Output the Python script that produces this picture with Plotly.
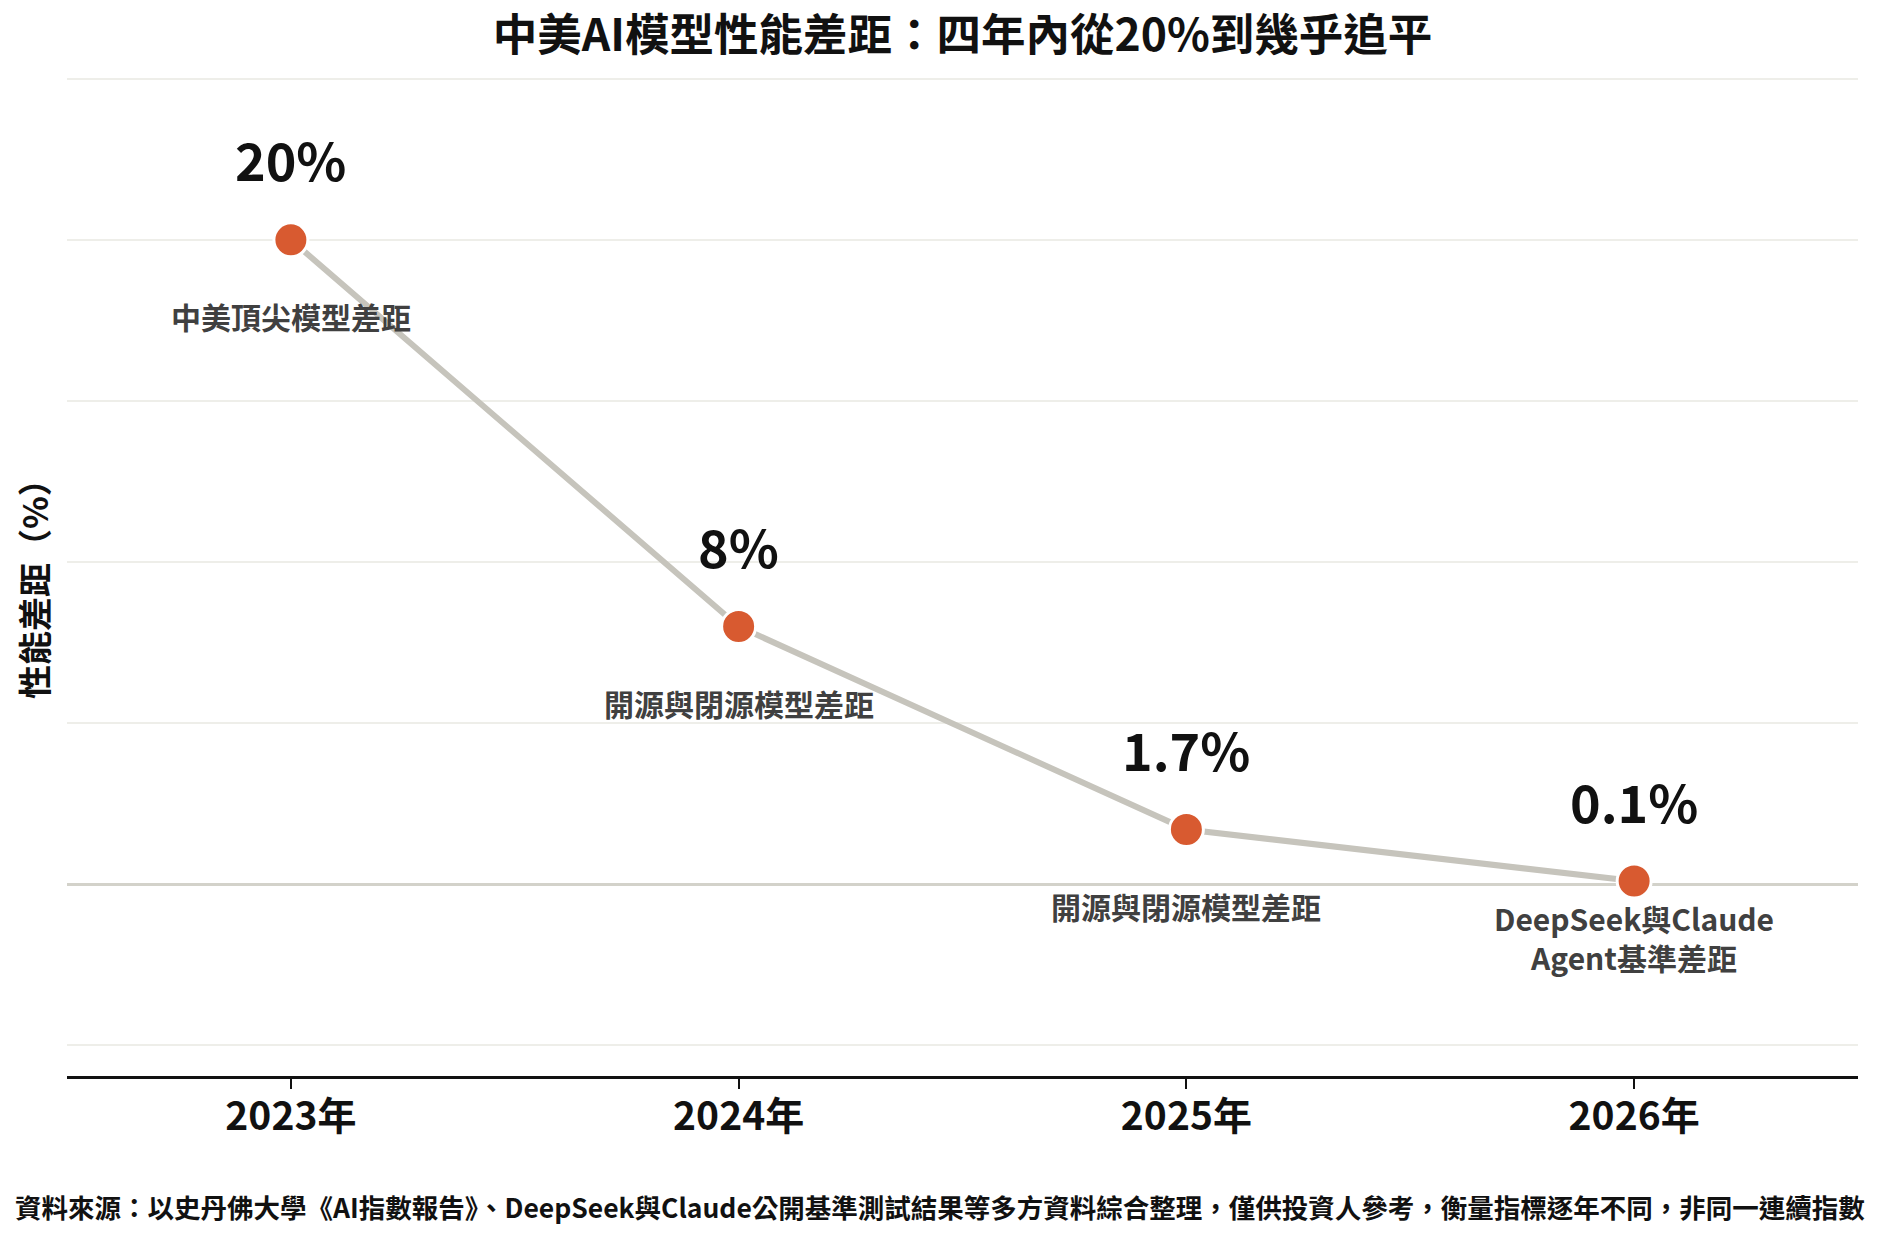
import plotly.graph_objects as go

# data
years = ["2023年", "2024年", "2025年", "2026年"]
gap_pct = [20, 8, 1.7, 0.1]
value_labels = ["20%", "8%", "1.7%", "0.1%"]
desc_labels = [
    "中美頂尖模型差距",
    "開源與閉源模型差距",
    "開源與閉源模型差距",
    "DeepSeek與Claude<br>Agent基準差距",
]

TITLE = "中美AI模型性能差距：四年內從20%到幾乎追平"
Y_TITLE = "性能差距（%）"
SOURCE = ("資料來源：以史丹佛大學《AI指數報告》、DeepSeek與Claude公開基準測試結果等多方資料綜合整理，"
          "僅供投資人參考，衡量指標逐年不同，非同一連續指數")

FONT = "Noto Sans CJK TC"
# page body has an 8px margin, so the figure is a bit smaller than the window
W, H = 1866, 1230
ML, MR, MT, MB = 59, 16, 64, 162
plot_w = W - ML - MR
plot_h = H - MT - MB


def px_x(x):
    return (x - ML) / plot_w


def px_y(y):
    return 1 - (y - MT) / plot_h


fig = go.Figure()
fig.add_trace(go.Scatter(
    x=years, y=gap_pct, mode="lines+markers",
    line=dict(color="#c6c4bc", width=6),
    marker=dict(size=34, color="#d85a30", line=dict(color="white", width=3)),
    hoverinfo="skip", showlegend=False,
))

# big value labels above, descriptions below each point
for yr, v, lab, desc in zip(years, gap_pct, value_labels, desc_labels):
    fig.add_annotation(x=yr, y=v, text=lab, showarrow=False, yanchor="middle",
                       yshift=81, font=dict(family=FONT, size=52, color="#111111", weight=700))
    two_line = "<br>" in desc
    fig.add_annotation(x=yr, y=v, text=desc, showarrow=False, yanchor="middle",
                       yshift=-56 if two_line else -76,
                       font=dict(family=FONT, size=30, color="#404040", weight=700))

fig.add_annotation(xref="paper", yref="paper", x=px_x(25), y=px_y(573),
                   text=Y_TITLE, textangle=-90, showarrow=False,
                   xanchor="center", yanchor="middle",
                   font=dict(family=FONT, size=34, color="#111111", weight=700))

fig.add_annotation(xref="paper", yref="paper", x=px_x(5), y=px_y(1198),
                   text=SOURCE, showarrow=False, xanchor="left", yanchor="middle",
                   font=dict(family=FONT, size=26.5, color="#111111", weight=700))

fig.update_layout(
    width=W, height=H,
    margin=dict(l=ML, r=MR, t=MT, b=MB),
    plot_bgcolor="white", paper_bgcolor="white",
    font=dict(family=FONT),
    title=dict(text=TITLE, x=(ML + plot_w / 2) / W, xanchor="center",
               y=1 - 27 / H, yanchor="middle",
               font=dict(family=FONT, size=44.5, color="#111111", weight=700)),
)
fig.update_xaxes(
    type="category", range=[-0.5, 3.5],
    showgrid=False, showline=True, linecolor="#111111", linewidth=2.5,
    ticks="outside", ticklen=10, tickwidth=1.5, tickcolor="#111111",
    ticklabelstandoff=-6,
    tickfont=dict(family=FONT, size=39, color="#111111", weight=700),
)
fig.update_yaxes(
    range=[-5.95, 25.21], tick0=0, dtick=5, showticklabels=False,
    showgrid=True, gridcolor="#eeeee9", gridwidth=2,
    zeroline=True, zerolinecolor="#d3d2ca", zerolinewidth=3,
)

fig.write_html("out.html")
